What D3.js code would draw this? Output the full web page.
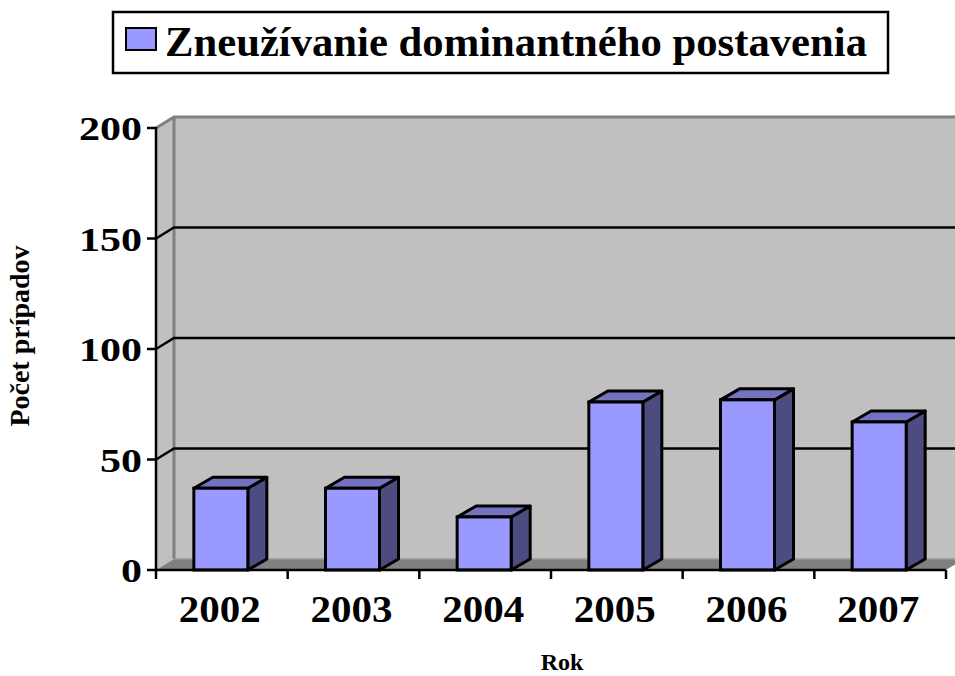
<!DOCTYPE html>
<html>
<head>
<meta charset="utf-8">
<script src="https://cdn.jsdelivr.net/npm/d3@7"></script>
<style>
  body { margin: 0; background: #fff; }
  text { font-family: "Liberation Serif", "Times New Roman", serif; font-weight: bold; }
</style>
</head>
<body>
<svg id="chart" width="955" height="676"></svg>
<script>
var years = ["2002", "2003", "2004", "2005", "2006", "2007"];
var cases = [37, 37, 24, 76, 77, 67];
var yTicks = [0, 50, 100, 150, 200];
var seriesName = "Zneužívanie dominantného postavenia";

var svg = d3.select("#chart");

// note: "top" is a reserved window property, so plot edges get their own names
var plotLeft = 156, plotRight = 946, plotBottom = 570, plotTop = 128;
var depthX = 18, depthY = -11;     // wall depth offset
var barDX = 19, barDY = -11;       // bar depth offset

var x = d3.scaleBand().domain(years).range([plotLeft, plotRight]);
var y = d3.scaleLinear().domain([0, 200]).range([plotBottom, plotTop]);

var wall = svg.append("g").attr("class", "walls");
var farRight = plotRight + depthX + 20;

// side wall
wall.append("polygon")
  .attr("points", [[plotLeft, y(0)], [plotLeft, y(200)], [plotLeft + depthX, y(200) + depthY], [plotLeft + depthX, y(0) + depthY]].join(" "))
  .attr("fill", "#c0c0c0");

// back wall
wall.append("polygon")
  .attr("points", [[plotLeft + depthX, y(0) + depthY], [plotLeft + depthX, y(200) + depthY], [farRight, y(200) + depthY], [farRight, y(0) + depthY]].join(" "))
  .attr("fill", "#c0c0c0");

// floor
wall.append("polygon")
  .attr("points", [[plotLeft, y(0)], [plotLeft + depthX, y(0) + depthY], [plotRight + depthX, y(0) + depthY], [plotRight, y(0)]].join(" "))
  .attr("fill", "#808080");

// wall edges
wall.append("path")
  .attr("d", "M" + plotLeft + "," + y(200) + "L" + (plotLeft + depthX) + "," + (y(200) + depthY) +
             "L" + farRight + "," + (y(200) + depthY))
  .attr("fill", "none").attr("stroke", "#808080").attr("stroke-width", 3);
wall.append("line")
  .attr("x1", plotLeft + depthX).attr("y1", y(200) + depthY)
  .attr("x2", plotLeft + depthX).attr("y2", y(0) + depthY)
  .attr("stroke", "#808080").attr("stroke-width", 3);
wall.append("line")
  .attr("x1", plotLeft + depthX).attr("y1", y(0) + depthY)
  .attr("x2", plotRight + depthX).attr("y2", y(0) + depthY)
  .attr("stroke", "#999999").attr("stroke-width", 1.5);

// gridlines
yTicks.filter(function(t) { return t > 0 && t < 200; }).forEach(function(t) {
  wall.append("path")
    .attr("d", "M" + plotLeft + "," + y(t) + "L" + (plotLeft + depthX) + "," + (y(t) + depthY) +
               "L" + farRight + "," + (y(t) + depthY))
    .attr("fill", "none").attr("stroke", "#000").attr("stroke-width", 2.5);
});

// y axis
var axes = svg.append("g");
axes.append("line")
  .attr("x1", plotLeft).attr("y1", y(200) - 1).attr("x2", plotLeft).attr("y2", y(0) + 1)
  .attr("stroke", "#000").attr("stroke-width", 2.5);
yTicks.forEach(function(t) {
  axes.append("line")
    .attr("x1", plotLeft - 9).attr("y1", y(t)).attr("x2", plotLeft).attr("y2", y(t))
    .attr("stroke", "#000").attr("stroke-width", 2.5);
  axes.append("text")
    .attr("x", 142).attr("y", y(t) + 12)
    .attr("text-anchor", "end")
    .attr("font-size", 34)
    .attr("textLength", String(t).length * 21)
    .attr("lengthAdjust", "spacingAndGlyphs")
    .text(t);
});

// bars
var bars = svg.append("g").selectAll("g").data(years).enter().append("g");
var barW = 54;
bars.each(function(d, i) {
  var g = d3.select(this);
  var x0 = x(d) + x.bandwidth() / 2 - 1 - barW / 2, x1 = x0 + barW;
  var yt = y(cases[i]), yb = y(0);
  g.append("polygon")
    .attr("points", [[x1, yb], [x1, yt], [x1 + barDX, yt + barDY], [x1 + barDX, yb + barDY]].join(" "))
    .attr("fill", "#4c4c80").attr("stroke", "#000").attr("stroke-width", 3).attr("stroke-linejoin", "round");
  g.append("polygon")
    .attr("points", [[x0, yt], [x0 + barDX, yt + barDY], [x1 + barDX, yt + barDY], [x1, yt]].join(" "))
    .attr("fill", "#7373bf").attr("stroke", "#000").attr("stroke-width", 3).attr("stroke-linejoin", "round");
  g.append("rect")
    .attr("x", x0).attr("y", yt).attr("width", barW).attr("height", yb - yt)
    .attr("fill", "#9999ff").attr("stroke", "#000").attr("stroke-width", 3);
});

// x axis
axes = svg.append("g");
axes.append("line")
  .attr("x1", plotLeft).attr("y1", y(0)).attr("x2", plotRight).attr("y2", y(0))
  .attr("stroke", "#000").attr("stroke-width", 2.5);
years.concat(["end"]).forEach(function(d, i) {
  var xx = i < years.length ? x(d) : plotRight;
  axes.append("line")
    .attr("x1", xx).attr("y1", y(0)).attr("x2", xx).attr("y2", y(0) + 9)
    .attr("stroke", "#000").attr("stroke-width", 2.5);
});
svg.append("g").selectAll("text").data(years).enter().append("text")
  .attr("x", function(d) { return x(d) + x.bandwidth() / 2 - 2; })
  .attr("y", 622)
  .attr("text-anchor", "middle")
  .attr("font-size", 38)
  .attr("textLength", 82)
  .attr("lengthAdjust", "spacingAndGlyphs")
  .text(function(d) { return d; });

// axis titles
svg.append("text")
  .attr("transform", "translate(29,336) rotate(-90)")
  .attr("text-anchor", "middle")
  .attr("font-size", 28)
  .text("Počet prípadov");
svg.append("text")
  .attr("x", 562).attr("y", 670)
  .attr("text-anchor", "middle")
  .attr("font-size", 24)
  .text("Rok");

// legend
var legend = svg.append("g");
legend.append("rect")
  .attr("x", 113).attr("y", 12).attr("width", 775).attr("height", 61)
  .attr("fill", "#fff").attr("stroke", "#000").attr("stroke-width", 2.5);
legend.append("rect")
  .attr("x", 126).attr("y", 28).attr("width", 30).attr("height", 22)
  .attr("fill", "#9999ff").attr("stroke", "#000").attr("stroke-width", 2);
legend.append("text")
  .attr("x", 165).attr("y", 56)
  .attr("font-size", 43)
  .attr("textLength", 702)
  .attr("lengthAdjust", "spacingAndGlyphs")
  .text(seriesName);
</script>
</body>
</html>
